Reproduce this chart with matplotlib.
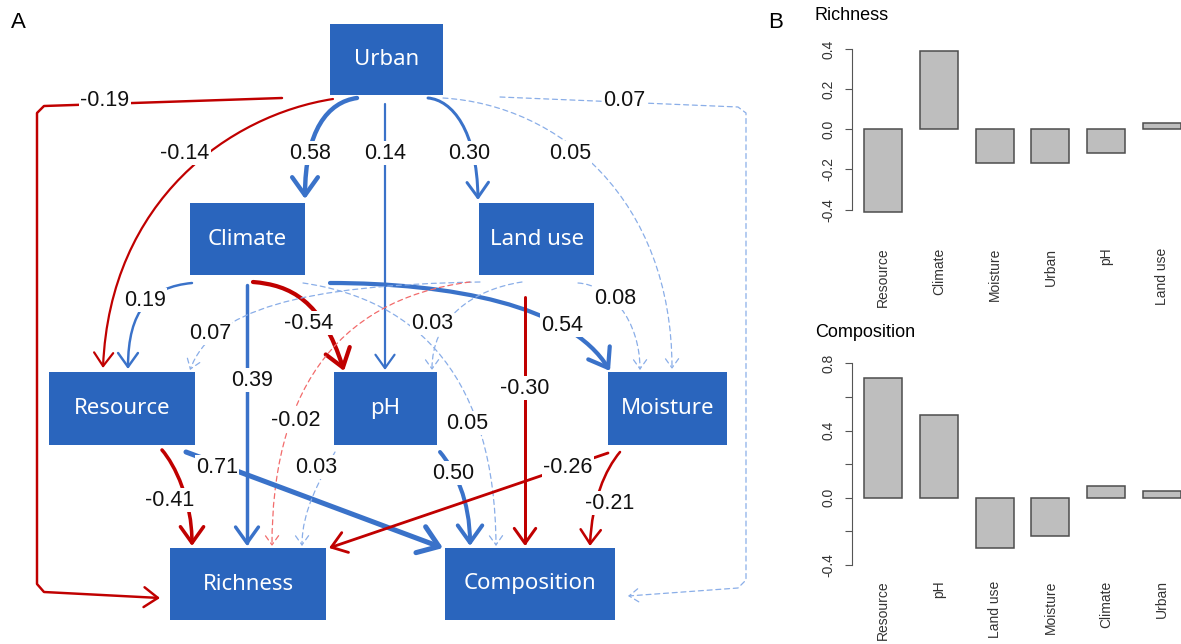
import numpy as np
import matplotlib.pyplot as plt
from matplotlib.patches import Rectangle, FancyArrowPatch
from matplotlib.path import Path

plt.rcParams['font.family'] = ['Liberation Sans', 'DejaVu Sans']

# ---- panel A: path coefficients ----
edge_from = ['Urban', 'Urban', 'Urban', 'Urban', 'Urban', 'Urban', 'Urban',
             'Climate', 'Climate', 'Climate', 'Climate', 'Climate',
             'Land use', 'Land use', 'Land use', 'Land use', 'Land use',
             'Resource', 'Resource', 'pH', 'pH', 'Moisture', 'Moisture']
edge_to = ['Richness', 'Resource', 'Climate', 'pH', 'Land use', 'Moisture', 'Composition',
           'Resource', 'Richness', 'pH', 'Moisture', 'Composition',
           'Resource', 'pH', 'Richness', 'Moisture', 'Composition',
           'Richness', 'Composition', 'Richness', 'Composition', 'Richness', 'Composition']
edge_coef = [-0.19, -0.14, 0.58, 0.14, 0.30, 0.05, 0.07,
             0.19, 0.39, -0.54, 0.54, 0.05,
             0.07, 0.03, -0.02, 0.08, -0.30,
             -0.41, 0.71, 0.03, 0.50, -0.26, -0.21]

# ---- panel B: effects ----
rich_vars = ['Resource', 'Climate', 'Moisture', 'Urban', 'pH', 'Land use']
rich_vals = [-0.41, 0.39, -0.17, -0.17, -0.12, 0.03]
comp_vars = ['Resource', 'pH', 'Land use', 'Moisture', 'Climate', 'Urban']
comp_vals = [0.71, 0.49, -0.30, -0.23, 0.07, 0.04]

# layout of the diagram (pixels, y downwards)
boxes = {
    'Urban': (330, 24, 113, 71),
    'Climate': (190, 203, 115, 72),
    'Land use': (479, 203, 115, 72),
    'Resource': (49, 372, 146, 73),
    'pH': (334, 372, 103, 73),
    'Moisture': (608, 372, 119, 73),
    'Richness': (170, 548, 156, 72),
    'Composition': (445, 548, 170, 72),
}
routes = [
    ('l', [(282, 98), (44, 106), (37, 113), (37, 584), (44, 592), (160, 598)]),
    ('c', [(333, 99), (230, 115), (110, 200), (103, 368)]),
    ('c', [(357, 98), (328, 102), (305, 130), (305, 199)]),
    ('l', [(385, 104), (385, 370)]),
    ('c', [(428, 98), (452, 100), (477, 130), (478, 200)]),
    ('c', [(443, 98), (560, 105), (672, 200), (672, 369)]),
    ('l', [(500, 97), (738, 107), (746, 113), (746, 580), (738, 588), (628, 596)]),
    ('c', [(192, 283), (150, 287), (128, 310), (128, 369)]),
    ('l', [(247, 285), (247, 546)]),
    ('c', [(253, 282), (290, 285), (322, 300), (344, 371)]),
    ('c', [(330, 283), (450, 283), (570, 305), (610, 371)]),
    ('c', [(303, 283), (420, 300), (495, 380), (496, 546)]),
    ('c', [(480, 282), (300, 285), (212, 310), (190, 370)]),
    ('c', [(522, 282), (470, 290), (432, 320), (432, 370)]),
    ('c', [(470, 282), (330, 300), (272, 400), (272, 546)]),
    ('c', [(578, 283), (610, 285), (640, 320), (640, 370)]),
    ('l', [(525, 297), (525, 546)]),
    ('c', [(162, 450), (175, 465), (192, 500), (192, 546)]),
    ('l', [(186, 452), (443, 548)]),
    ('c', [(335, 452), (320, 480), (302, 510), (302, 546)]),
    ('c', [(440, 452), (455, 470), (470, 500), (470, 546)]),
    ('l', [(608, 453), (329, 548)]),
    ('c', [(620, 452), (605, 470), (592, 500), (590, 546)]),
]
label_xy = [(105, 100), (185, 153), (310, 153), (385, 153), (469, 153), (570, 153), (624, 100),
            (145, 300), (252, 380), (309, 323), (562, 325), (467, 423),
            (210, 333), (432, 323), (296, 420), (615, 298), (525, 388),
            (170, 500), (217, 467), (316, 467), (453, 473), (568, 467), (610, 503)]

blue, red = '#3a72c9', '#c00000'
lblue, lred = '#8aaee8', '#f26b6b'
box_col = '#2a65bd'

fig = plt.figure(figsize=(11.81, 6.44), dpi=100)
ax = fig.add_axes([0, 0, 1, 1])
ax.set_xlim(0, 1181)
ax.set_ylim(644, 0)
ax.axis('off')

for name, (x, y, w, h) in boxes.items():
    ax.add_patch(Rectangle((x, y), w, h, fc=box_col, ec='none', zorder=3))
    ax.text(x + w / 2, y + h / 2, name, color='white', ha='center', va='center',
            fontsize=16, family=['Noto Sans', 'DejaVu Sans'], zorder=4)

for v, (kind, pts), (lx, ly) in zip(edge_coef, routes, label_xy):
    sig = abs(v) >= 0.1
    if v > 0:
        col = blue if sig else lblue
    else:
        col = red if sig else lred
    if sig:
        lw = (1.5 + 5 * abs(v)) * 0.72
        ms = 9 + 3 * lw
        ls = '-'
    else:
        lw = 0.9
        ms = 9.5
        ls = (0, (4, 3))
    if kind == 'c':
        codes = [Path.MOVETO, Path.CURVE4, Path.CURVE4, Path.CURVE4]
    else:
        codes = [Path.MOVETO] + [Path.LINETO] * (len(pts) - 1)
    arr = FancyArrowPatch(path=Path(pts, codes),
                          arrowstyle='->,head_length=0.7,head_width=0.5',
                          mutation_scale=ms, lw=lw, color=col, linestyle=ls,
                          zorder=2)
    ax.add_patch(arr)
    ax.text(lx, ly, f'{v:.2f}', ha='center', va='center', fontsize=15.5,
            color='#111111', zorder=5,
            bbox=dict(fc='white', ec='none', pad=1.0))

ax.text(18, 22, 'A', fontsize=16, ha='center', va='center')
ax.text(776, 22, 'B', fontsize=16, ha='center', va='center')


def bar_panel(top, bottom, zero_y, px_per_unit, names, vals, ticks, shown, title, title_y, xpad):
    H = 644
    rect = [852 / 1181, 1 - bottom / H, 329 / 1181, (bottom - top) / H]
    bx = fig.add_axes(rect)
    x = np.arange(len(names))
    bx.bar(x, vals, width=0.68, color='#bebebe', edgecolor='#4d4d4d', linewidth=1.1)
    bx.set_xlim(-0.556, 5.34)
    bx.set_ylim(-(bottom - zero_y) / px_per_unit, (zero_y - top) / px_per_unit)
    for s in ['top', 'right', 'bottom']:
        bx.spines[s].set_visible(False)
    bx.spines['left'].set_bounds(ticks[0], ticks[-1])
    bx.spines['left'].set_color('#555555')
    bx.set_yticks(ticks)
    bx.set_yticklabels([f'{t:.1f}' if t in shown else '' for t in ticks],
                       rotation=90, va='center')
    bx.tick_params(axis='y', length=5, pad=7, labelsize=10, colors='#555555',
                   labelcolor='#333333')
    bx.set_xticks(x)
    bx.set_xticklabels(names, rotation=90)
    bx.tick_params(axis='x', length=0, pad=xpad, labelsize=10, labelcolor='#333333')
    bx.patch.set_visible(False)
    fig.text(815 / 1181, 1 - title_y / H, title, fontsize=13, va='center', ha='left')
    return bx


bar_panel(40, 220, 129.3, 201, rich_vars, rich_vals,
          [-0.4, -0.2, 0.0, 0.2, 0.4], [-0.4, -0.2, 0.0, 0.2, 0.4],
          'Richness', 15, 20)
bar_panel(355, 572, 497.7, 168, comp_vars, comp_vals,
          [-0.4, -0.2, 0.0, 0.2, 0.4, 0.6, 0.8], [-0.4, 0.0, 0.4, 0.8],
          'Composition', 333, 6)

fig.savefig('out.png', dpi=100)
